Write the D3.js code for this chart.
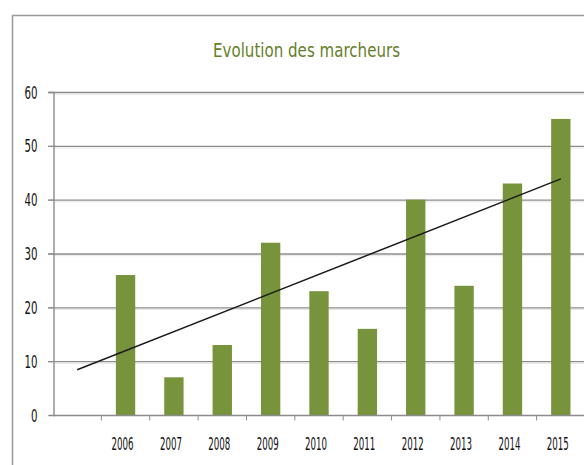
<!DOCTYPE html>
<html><head><meta charset="utf-8">
<script src="https://cdn.jsdelivr.net/npm/d3@7"></script>
<style>body{margin:0;background:#fff}svg{display:block}</style>
</head><body>
<svg id="c" width="584" height="465"></svg>
<script>
const categories = ["", "2006", "2007", "2008", "2009", "2010", "2011", "2012", "2013", "2014", "2015"];
const values = [null, 26, 7, 13, 32, 23, 16, 40, 24, 43, 55];
const yTicks = [0, 10, 20, 30, 40, 50, 60];
const title = "Evolution des marcheurs";

const svg = d3.select("#c");
const font = "'DejaVu Sans',sans-serif";

// frame
svg.append("path").attr("d", "M12.5,465 V15.5 H584").attr("fill", "none").attr("stroke", "#9a9a9a").attr("stroke-width", 1.5);

const x = d3.scaleBand().domain(categories).range([53, 585]).padding(0);
const y = d3.scaleLinear().domain([0, 60]).range([415, 92]);

// gridlines
svg.append("g").selectAll("line").data(yTicks.filter(d => d > 0)).join("line")
  .attr("x1", 48).attr("x2", 584).attr("y1", d => y(d) + 0.5).attr("y2", d => y(d) + 0.5)
  .attr("stroke", "#8c8c8c").attr("stroke-width", 1.4);
svg.append("g").selectAll("line").data(yTicks.filter(d => d > 0)).join("line")
  .attr("x1", 54).attr("x2", 584).attr("y1", d => y(d) + 2.2).attr("y2", d => y(d) + 2.2)
  .attr("stroke", "#e6e6e6").attr("stroke-width", 1);

// y axis
const yAxis = d3.axisLeft(y).tickValues(yTicks).tickSize(5).tickPadding(11);
const gy = svg.append("g").attr("transform", "translate(53.5,0)").call(yAxis);
gy.select(".domain").attr("stroke", "#8c8c8c").attr("stroke-width", 1.4);
gy.selectAll(".tick line").attr("stroke", "#8c8c8c");
gy.selectAll("text").attr("font-family", font).style("font-size", "17px").attr("fill", "#111").attr("dy", "0.36em")
  .attr("textLength", d => String(d).length * 6.5).attr("lengthAdjust", "spacingAndGlyphs");

// bars
const bw = x.bandwidth() * 0.4;
svg.append("g").selectAll("rect").data(categories.map((c, i) => ({c, v: values[i]})).filter(d => d.v != null)).join("rect")
  .attr("x", d => x(d.c) + x.bandwidth() / 2 - bw / 2)
  .attr("width", bw)
  .attr("y", d => y(d.v))
  .attr("height", d => y(0) - y(d.v))
  .attr("fill", "#77933c");

// x axis
const gx = svg.append("g").attr("transform", "translate(0,415.5)");
gx.append("line").attr("x1", 53).attr("x2", 584).attr("stroke", "#8c8c8c").attr("stroke-width", 1.4);
gx.selectAll("line.t").data(categories.slice(1)).join("line").attr("class", "t")
  .attr("x1", d => x(d)).attr("x2", d => x(d)).attr("y1", 0).attr("y2", 5).attr("stroke", "#8c8c8c");
gx.selectAll("text").data(categories.slice(1)).join("text")
  .attr("x", d => x(d) + x.bandwidth() / 2 - 3).attr("y", 34)
  .attr("text-anchor", "middle").attr("font-family", font).style("font-size", "17px").attr("fill", "#111")
  .attr("textLength", 22).attr("lengthAdjust", "spacingAndGlyphs")
  .text(d => d);

// linear trendline (least squares over the year series, extended back one period)
const pts = values.map((v, i) => [i, v]).filter(p => p[1] != null);
const mx = d3.mean(pts, p => p[0]), my = d3.mean(pts, p => p[1]);
const slope = d3.sum(pts, p => (p[0] - mx) * (p[1] - my)) / d3.sum(pts, p => (p[0] - mx) ** 2);
const icpt = my - slope * mx;
const ends = [0, categories.length - 1];
svg.append("line")
  .attr("x1", x(categories[ends[0]]) + x.bandwidth() / 2).attr("y1", y(icpt + slope * ends[0]))
  .attr("x2", x(categories[ends[1]]) + x.bandwidth() / 2).attr("y2", y(icpt + slope * ends[1]))
  .attr("stroke", "#1a1a1a").attr("stroke-width", 1.5);

// title
svg.append("text").attr("x", 306.5).attr("y", 57).attr("text-anchor", "middle")
  .attr("font-family", font).style("font-size", "20px").attr("fill", "#66802a")
  .attr("textLength", 187).attr("lengthAdjust", "spacingAndGlyphs").text(title);
</script>
</body></html>
